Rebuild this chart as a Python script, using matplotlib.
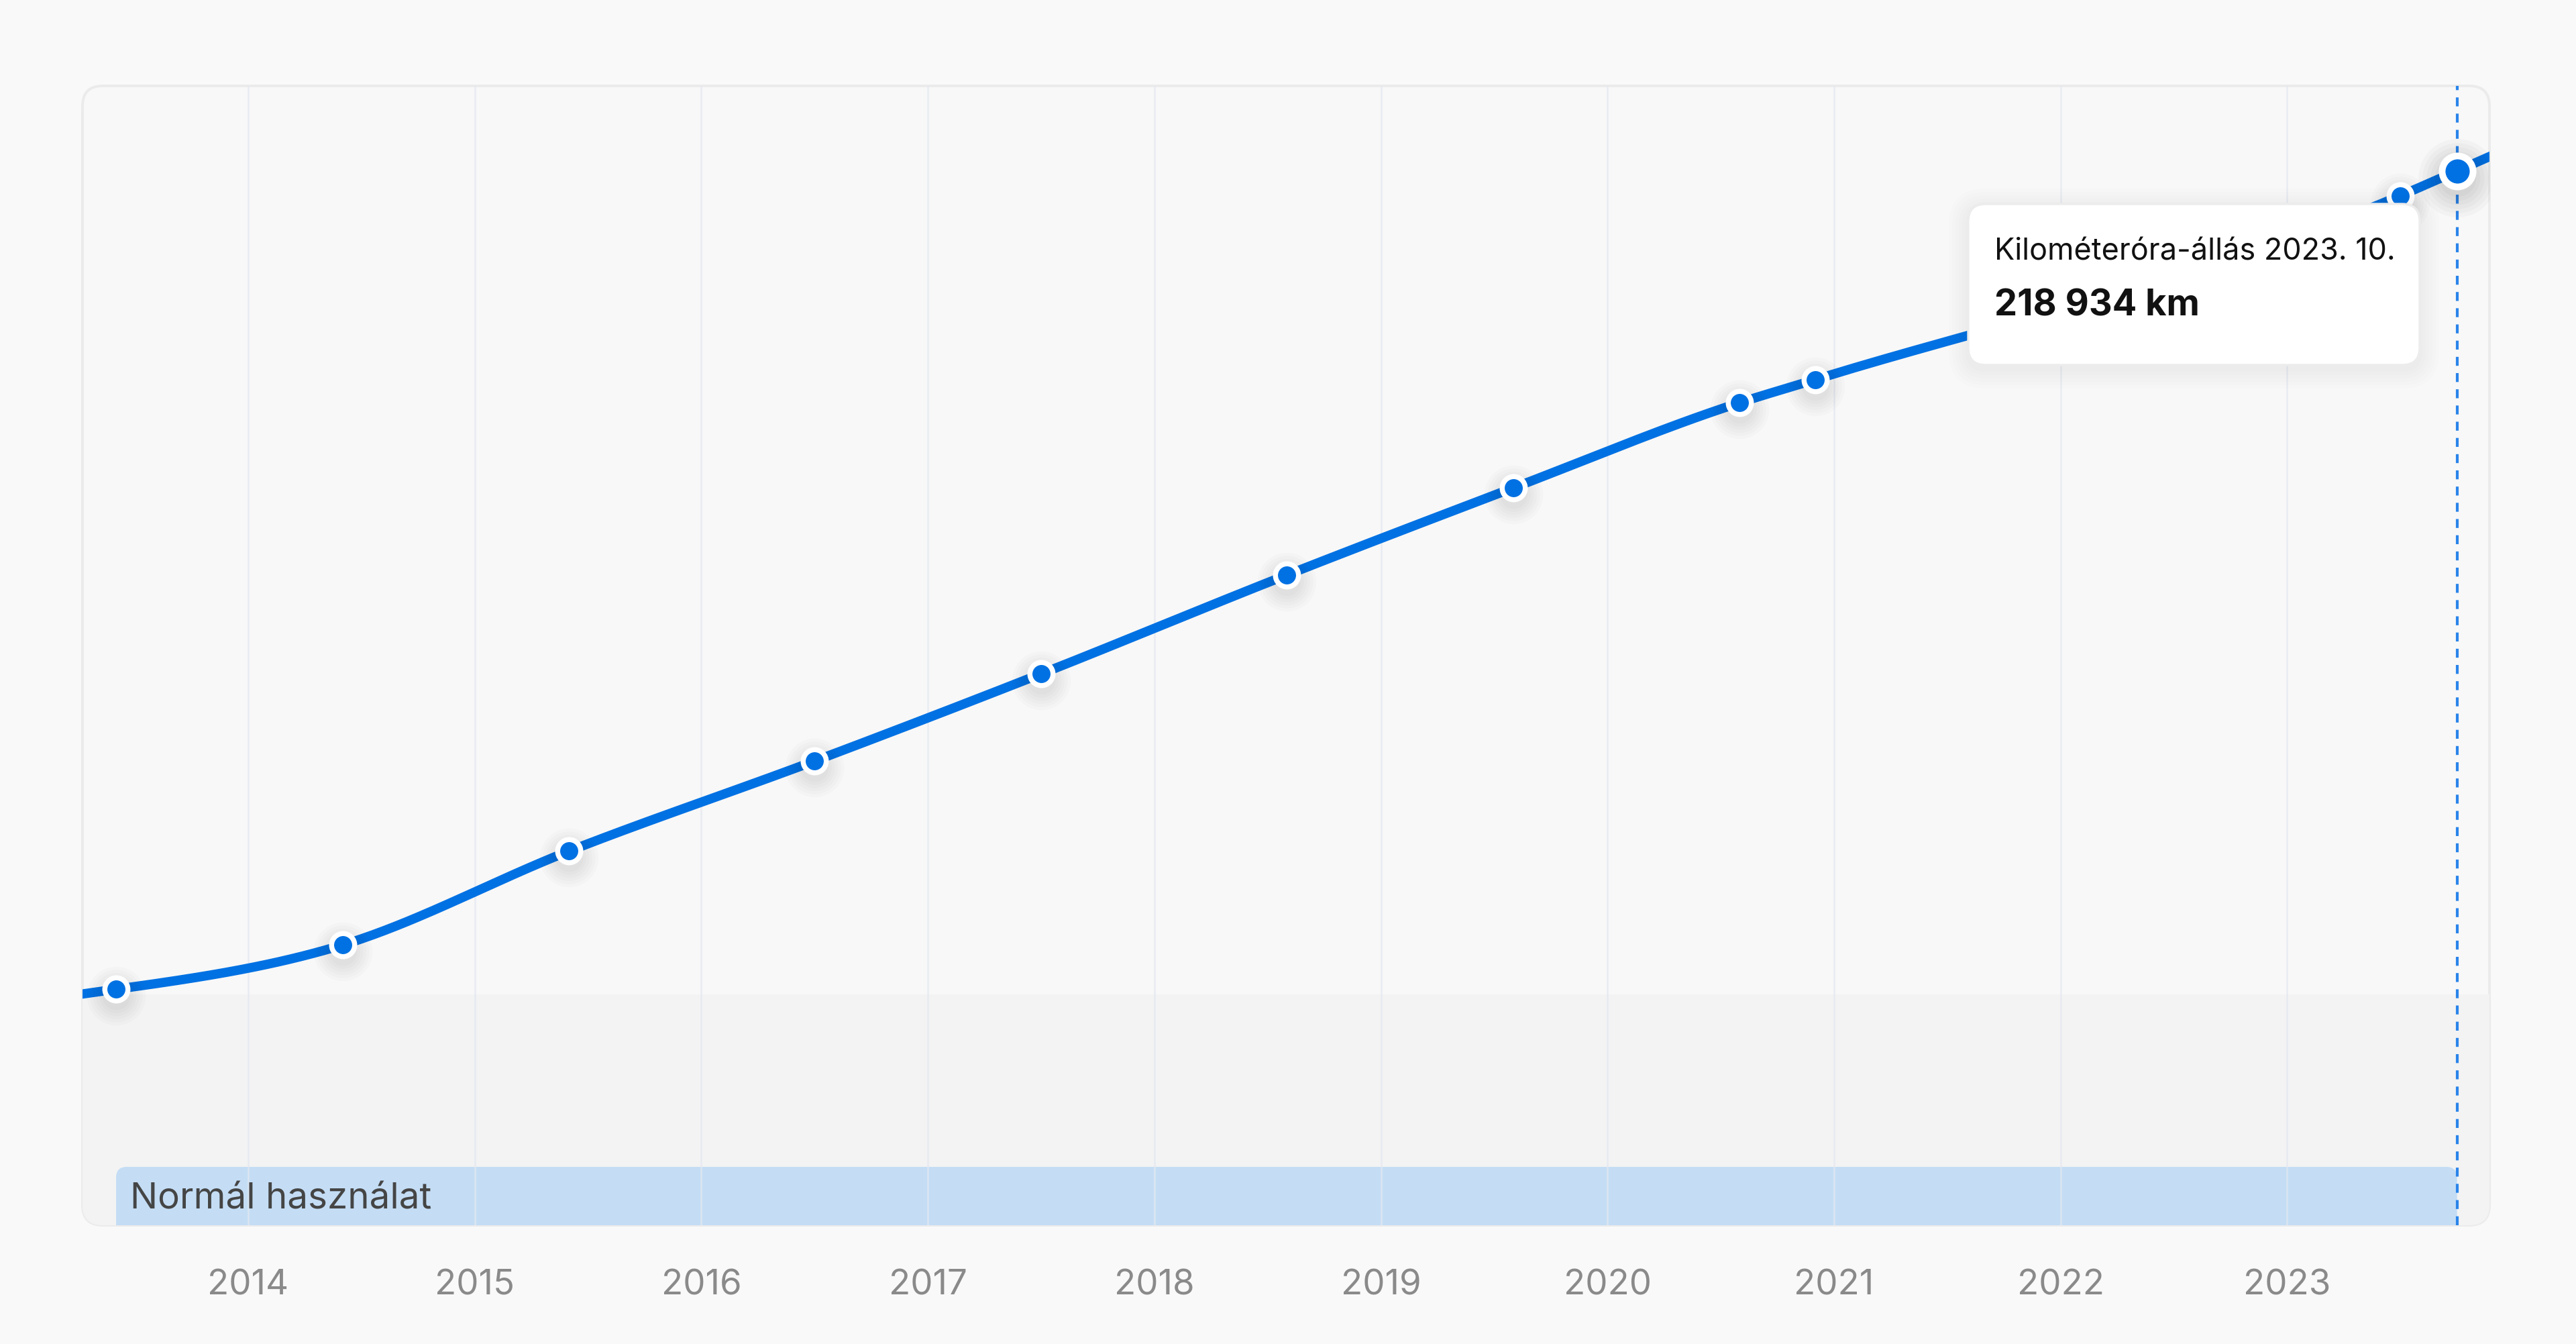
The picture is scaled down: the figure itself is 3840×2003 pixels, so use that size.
import matplotlib
matplotlib.use("Agg")
import matplotlib.pyplot as plt
from matplotlib.patches import FancyBboxPatch
from matplotlib.transforms import IdentityTransform, offset_copy, blended_transform_factory
import numpy as np

# ---------------- data ----------------
reading_dates = ["2013-06", "2014-06", "2015-06", "2016-07", "2017-07", "2018-08",
                 "2019-08", "2020-08", "2020-12", "2023-07", "2023-10"]
odometer_km = [49000, 58200, 77700, 96400, 114500, 135000,
               153100, 170800, 175600, 213800, 218934]
year_ticks = [2014, 2015, 2016, 2017, 2018, 2019, 2020, 2021, 2022, 2023]
year_labels = [str(y) for y in year_ticks]
tooltip_title = "Kilométeróra-állás 2023. 10."
tooltip_value = "218 934 km"
band_label = "Normál használat"
low_zone_km = 48000

# ---------------- layout ----------------
W, H, DPI = 3840, 2003, 200
L, R, T, B = 123, 3711, 128, 1826          # panel edges (image px)
X_MIN, X_MAX = 2013.2686, 2023.893
Y_MAX = 236590

BLUE = "#0071e3"
plt.rcParams["font.family"] = ["Inter", "DejaVu Sans"]


def to_year(s):
    y, m = s.split("-")
    return int(y) + (int(m) - 1) / 12.0


xs = np.array([to_year(d) for d in reading_dates])
ys = np.array(odometer_km, dtype=float)


def monotone_curve(x, y, n=60):
    h = np.diff(x)
    s = np.diff(y) / h
    t = np.zeros_like(y)
    for i in range(1, len(x) - 1):
        s0, s1 = s[i - 1], s[i]
        p = (s0 * h[i] + s1 * h[i - 1]) / (h[i - 1] + h[i])
        t[i] = (np.sign(s0) + np.sign(s1)) * min(abs(s0), abs(s1), 0.5 * abs(p))
    t[0] = (3 * s[0] - t[1]) / 2
    t[-1] = (3 * s[-1] - t[-2]) / 2
    px, py = [], []
    px.append(X_MIN - 0.1); py.append(y[0] + t[0] * (X_MIN - 0.1 - x[0]))
    for i in range(len(x) - 1):
        u = np.linspace(0, 1, n, endpoint=False)
        hh = h[i]
        h00 = 2 * u**3 - 3 * u**2 + 1
        h10 = u**3 - 2 * u**2 + u
        h01 = -2 * u**3 + 3 * u**2
        h11 = u**3 - u**2
        px.extend(x[i] + u * hh)
        py.extend(h00 * y[i] + h10 * hh * t[i] + h01 * y[i + 1] + h11 * hh * t[i + 1])
    px.append(x[-1]); py.append(y[-1])
    px.append(X_MAX + 0.1); py.append(y[-1] + t[-1] * (X_MAX + 0.1 - x[-1]))
    return np.array(px), np.array(py)


fig = plt.figure(figsize=(W / DPI, H / DPI), dpi=DPI, facecolor="#f9f9f9")
ax = fig.add_axes([L / W, 1 - B / H, (R - L) / W, (B - T) / H])
ax.set_xlim(X_MIN, X_MAX)
ax.set_ylim(0, Y_MAX)
ax.axis("off")

ident = IdentityTransform()

# panel
panel = FancyBboxPatch((L, H - B), R - L, B - T,
                       boxstyle="round,pad=0,rounding_size=30",
                       transform=ident, fc="#f8f8f8", ec="#ebebeb", lw=1.4,
                       zorder=0, clip_on=False)
ax.add_patch(panel)

# low zone
span = ax.axhspan(0, low_zone_km, color="#f3f3f3", lw=0, zorder=0.5)
span.set_clip_path(panel)

# blue usage band
x0d = ax.transData.transform((xs[0], 0))[0]
x1d = ax.transData.transform((xs[-1], 0))[0]
band_top = H - 1739
band = FancyBboxPatch((x0d, H - B - 40), x1d - x0d, band_top - (H - B - 40),
                      boxstyle="round,pad=0,rounding_size=16",
                      transform=ident, fc="#c4ddf5", ec="none", zorder=1)
ax.add_patch(band)
band.set_clip_path(panel)
ax.text(194, H - 1787, band_label, transform=ident, fontsize=19.7,
        color="#454545", va="center", ha="left", zorder=5)

# grid
for yr in year_ticks:
    g = ax.axvline(yr, color="#e3e8f0", lw=0.9, zorder=1.5, alpha=0.75)
    g.set_clip_path(panel)

# year labels
tr = blended_transform_factory(ax.transData, ident)
for yr, lab in zip(year_ticks, year_labels):
    ax.text(yr, H - 1916, lab, transform=tr, ha="center", va="center",
            fontsize=19, color="#8a8a8a")

# dashed current line
dl = ax.axvline(xs[-1], color="#2a84ea", lw=1.5, ls=(0, (3.2, 2.6)), zorder=3)
dl.set_clip_path(panel)

# curve
cx, cy = monotone_curve(xs, ys)
ln, = ax.plot(cx, cy, color=BLUE, lw=5.0, solid_capstyle="round", zorder=4)
ln.set_clip_path(panel)

# marker shadows
sh_tr = offset_copy(ax.transData, fig=fig, x=0, y=-10, units="dots")
for k in range(6):
    scale = 1.0 + 0.22 * k
    ax.plot(xs[:-1], ys[:-1], "o", ms=15 * scale, color="black", alpha=0.015,
            mew=0, transform=sh_tr, zorder=4.2)
    ax.plot(xs[-1:], ys[-1:], "o", ms=20 * scale, color="black", alpha=0.025,
            mew=0, transform=sh_tr, zorder=4.2)

# markers
ax.plot(xs[:-1], ys[:-1], "o", ms=12.4, mfc=BLUE, mec="white", mew=2.7, zorder=5)
ax.plot(xs[-1:], ys[-1:], "o", ms=16.6, mfc=BLUE, mec="white", mew=3.6, zorder=5)

# tooltip
tx0, tx1, ty0, ty1 = 2934, 3607, 304, 544
for k in range(6):
    e = 4 + 5 * k
    shp = FancyBboxPatch((tx0 - e, H - ty1 - e - 6), tx1 - tx0 + 2 * e, ty1 - ty0 + 2 * e,
                         boxstyle="round,pad=0,rounding_size=%d" % (26 + e),
                         transform=ident, fc="black", ec="none", alpha=0.008,
                         zorder=6, clip_on=False)
    ax.add_patch(shp)
tip = FancyBboxPatch((tx0, H - ty1), tx1 - tx0, ty1 - ty0,
                     boxstyle="round,pad=0,rounding_size=26",
                     transform=ident, fc="white", ec="#ececec", lw=1.2,
                     zorder=7, clip_on=False)
ax.add_patch(tip)
ax.text(2973, H - 376, tooltip_title, transform=ident, fontsize=16.2,
        color="#111111", va="center", ha="left", zorder=8)
ax.text(2973, H - 456, tooltip_value, transform=ident, fontsize=19.5,
        fontweight="bold", color="#111111", va="center", ha="left", zorder=8)

fig.savefig("out.png", dpi=DPI, facecolor=fig.get_facecolor())
